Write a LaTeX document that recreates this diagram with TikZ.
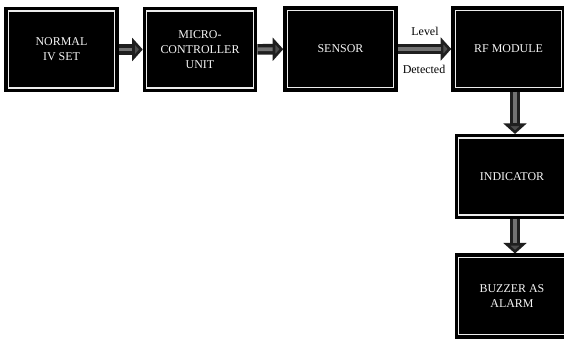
\documentclass[tikz,border=0pt]{standalone}
\usepackage{fontspec}
\setmainfont{Liberation Serif}
\usepackage{tikz}
\usepackage{xcolor}
\usetikzlibrary{arrows.meta,positioning}

\tikzset{
  blockbox/.style={rectangle,fill=black,draw=black,line width=0.6pt,
    minimum width=2.27cm,minimum height=1.68cm,inner sep=0pt,
    text=white!92!gray,align=center,font=\fontsize{6.8}{8.6}\selectfont,
    path picture={\draw[white!85!gray,line width=0.8pt]
      ([shift={(0.07cm,-0.07cm)}]path picture bounding box.north west) rectangle
      ([shift={(-0.07cm,0.07cm)}]path picture bounding box.south east);}},
  flow/.style={line width=6pt,draw=black!88,
    -{Triangle[length=6pt,width=13pt,fill=black!70]},
    postaction={draw=black!55,line width=2.2pt,-,shorten >=6pt}},
  tag/.style={font=\fontsize{6.8}{8.6}\selectfont,text=black}
}

\begin{document}
\begin{tikzpicture}[x=0.02cm,y=-0.02cm]
\useasboundingbox[fill=white] (0,0) rectangle (564,340);
\begin{scope}
\clip (0,0) rectangle (564,340);
\node[blockbox] (ivset) at (61.5,49.5) {NORMAL\\IV SET};
\node[blockbox] (mcu) at (200,49.5) {MICRO-\\CONTROLLER\\UNIT};
\node[blockbox] (sensor) at (340.5,49) {SENSOR};
\node[blockbox] (rf) at (508.5,49) {RF MODULE};
\node[blockbox] (ind) at (512,176.5) {INDICATOR};
\node[blockbox] (buzz) at (512,296) {BUZZER AS\\ALARM};
\coordinate (dn) at (515,0);

\draw[flow] (ivset) -- (mcu);
\draw[flow] (mcu) -- (sensor);
\draw[flow] (sensor) -- (rf);
\draw[flow] (rf.south -| dn) -- (ind.north -| dn);
\draw[flow] (ind.south -| dn) -- (buzz.north -| dn);

\node[tag] (lvl) at (425,31) {Level};
\node[tag] (det) at (424,69) {Detected};
\end{scope}
\end{tikzpicture}
\end{document}
